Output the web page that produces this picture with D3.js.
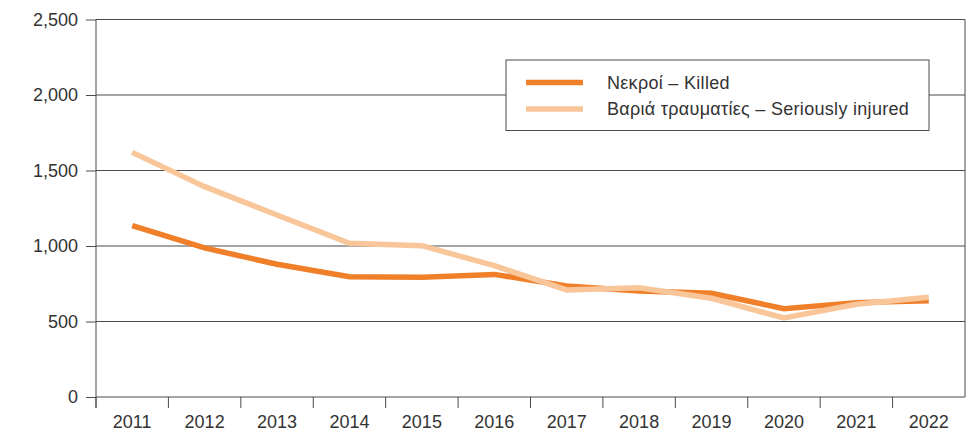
<!DOCTYPE html>
<html>
<head>
<meta charset="utf-8">
<script src="https://cdn.jsdelivr.net/npm/d3@7"></script>
<style>
  html, body { margin: 0; padding: 0; background: #fff; }
  svg { display: block; font-family: "Liberation Sans", Arial, Helvetica, sans-serif; }
</style>
</head>
<body>
<svg id="chart" width="969" height="433"></svg>
<script>
// Road casualties per year
const years = ["2011","2012","2013","2014","2015","2016","2017","2018","2019","2020","2021","2022"];
const killed = [1135, 987, 879, 796, 793, 812, 735, 702, 687, 585, 625, 638];
const seriouslyInjured = [1620, 1393, 1205, 1018, 1002, 870, 709, 724, 654, 523, 614, 660];
const yTicks = [0, 500, 1000, 1500, 2000, 2500];
const seriesNames = ["Νεκροί – Killed", "Βαριά τραυματίες – Seriously injured"];
const seriesColors = ["#f07f2a", "#f8c699"];

const svg = d3.select("#chart");
const plotLeft = 96, plotRight = 965, plotTop = 19.5, plotBottom = 397;

const x = d3.scaleBand().domain(years).range([plotLeft, plotRight]).padding(0);
const y = d3.scaleLinear().domain([0, 2500]).range([plotBottom, plotTop]);

const axisColor = "#4a4a4a";

// Horizontal gridlines with ticks poking out to the left
const yAxis = d3.axisLeft(y).tickValues(yTicks).tickFormat(d3.format(",")).tickSize(10).tickPadding(8);
const gy = svg.append("g").attr("transform", `translate(${plotLeft},0)`).call(yAxis);
gy.select(".domain").remove();
gy.selectAll(".tick line").attr("stroke", axisColor);
gy.selectAll(".tick text").attr("fill", "#333").style("font-size", "18px").style("font-family", "inherit");
svg.append("g").selectAll("line").data(yTicks).join("line")
  .attr("x1", plotLeft).attr("x2", plotRight)
  .attr("y1", d => y(d)).attr("y2", d => y(d))
  .attr("stroke", axisColor).attr("stroke-width", 1);

// Bottom axis: ticks on category boundaries, labels centered in bands
const boundaries = years.map(d => x(d));
svg.append("g").selectAll("line").data(boundaries).join("line")
  .attr("x1", d => d).attr("x2", d => d)
  .attr("y1", plotBottom).attr("y2", plotBottom + 11)
  .attr("stroke", axisColor);
svg.append("g").selectAll("text").data(years).join("text")
  .attr("x", d => x(d) + x.bandwidth() / 2)
  .attr("y", plotBottom + 31)
  .attr("text-anchor", "middle")
  .attr("fill", "#333")
  .style("font-size", "18px")
  .text(d => d);

// Left and right frame lines
svg.append("line").attr("x1", plotLeft).attr("x2", plotLeft).attr("y1", plotTop).attr("y2", plotBottom + 11).attr("stroke", axisColor);
svg.append("line").attr("x1", plotRight).attr("x2", plotRight).attr("y1", plotTop).attr("y2", plotBottom).attr("stroke", axisColor);

// Series lines (light series drawn on top)
const line = d3.line().x((d, i) => x(years[i]) + x.bandwidth() / 2).y(d => y(d));
[killed, seriouslyInjured].forEach((vals, k) => {
  svg.append("path").datum(vals)
    .attr("d", line)
    .attr("fill", "none")
    .attr("stroke", seriesColors[k])
    .attr("stroke-width", 5.5)
    .attr("stroke-linejoin", "miter");
});

// Legend
const lg = svg.append("g");
lg.append("rect").attr("x", 506).attr("y", 60).attr("width", 423).attr("height", 70.5)
  .attr("fill", "#fff").attr("stroke", axisColor).attr("stroke-width", 1);
seriesNames.forEach((name, i) => {
  const cy = 82.5 + i * 26.5;
  lg.append("line").attr("x1", 526).attr("x2", 583).attr("y1", cy).attr("y2", cy)
    .attr("stroke", seriesColors[i]).attr("stroke-width", 5.5);
  lg.append("text").attr("x", 607).attr("y", cy).attr("dy", "0.35em")
    .attr("fill", "#333").style("font-size", "18px").style("letter-spacing", "0.3px").text(name);
});
</script>
</body>
</html>
